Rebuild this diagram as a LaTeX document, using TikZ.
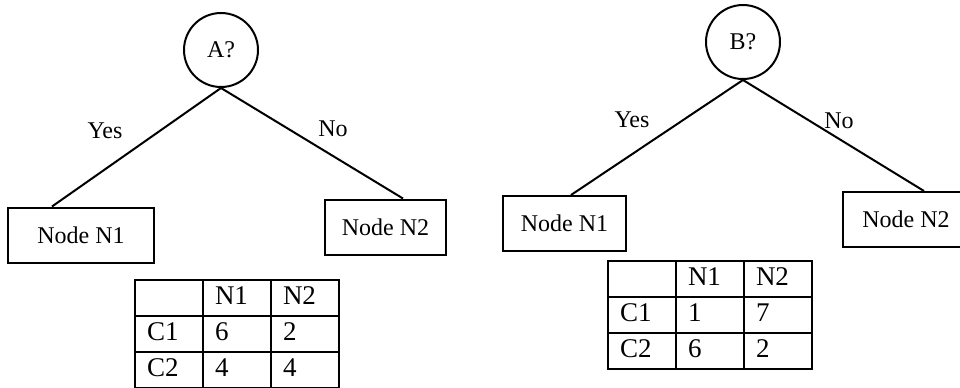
\documentclass[tikz,border=0pt]{standalone}
\usepackage{fontspec}
\setmainfont{Liberation Serif}
\usetikzlibrary{matrix, positioning}

\begin{document}
\begin{tikzpicture}[
    x=0.5pt, y=-0.5pt,
    font=\fontsize{12}{14}\selectfont,
    line width=1pt,
    test/.style={
        circle,
        draw=black,
        minimum size=37pt,
        inner sep=0pt
    },
    leaf/.style={
        rectangle,
        draw=black,
        minimum height=27.5pt,
        inner sep=2pt
    },
    lbl/.style={inner sep=0pt},
    counts/.style={
        matrix of nodes,
        nodes in empty cells,
        inner sep=0pt,
        column sep=-\pgflinewidth,
        row sep=-\pgflinewidth,
        nodes={
            draw=black,
            text width=22pt,
            text height=9.5pt,
            text depth=3pt,
            inner xsep=6pt,
            inner ysep=2.75pt,
            align=left,
            font=\fontsize{13.5}{15}\selectfont
        }
    }
]

\useasboundingbox (0,0) rectangle (960,387);

% Split on A
\node (qa) [test] at (221,50) {A?};
\node (n1a) [leaf, minimum width=73pt] at (81,235) {Node N1};
\node (n2a) [leaf, minimum width=60.5pt] at (385.5,227) {Node N2};

\draw (qa.south) -- ([xshift=-14.5pt]n1a.north);
\draw (qa.south) -- ([xshift=8.75pt]n2a.north);

\node (ya) [lbl] at (105,131) {Yes};
\node (na) [lbl] at (333,129) {No};

\matrix (ta) [counts, anchor=north west] at (133,278) {
      & N1 & N2 \\
   C1 & 6  & 2  \\
   C2 & 4  & 4  \\
};

% Split on B
\node (qb) [test] at (743,42) {B?};
\node (n1b) [leaf, minimum width=61.5pt] at (564.5,223.5) {Node N1};
\node (n2b) [leaf, minimum width=63pt] at (906,219.5) {Node N2};

\draw (qb.south) -- ([xshift=3.25pt]n1b.north);
\draw (qb.south) -- ([xshift=9pt]n2b.north);

\node (yb) [lbl] at (632,120) {Yes};
\node (nb) [lbl] at (839,121) {No};

\matrix (tb) [counts, anchor=north west] at (606,259) {
      & N1 & N2 \\
   C1 & 1  & 7  \\
   C2 & 6  & 2  \\
};

\end{tikzpicture}
\end{document}
